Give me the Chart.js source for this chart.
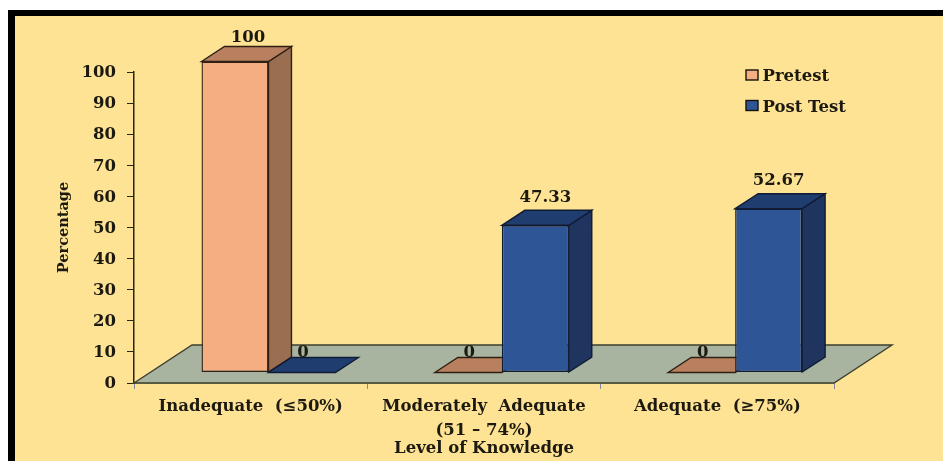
<!DOCTYPE html>
<html>
<head>
<meta charset="utf-8">
<style>
  html, body { margin: 0; padding: 0; background: #fff; overflow: hidden; }
  canvas { display: block; }
</style>
<script src="https://cdn.jsdelivr.net/npm/chart.js@4/dist/chart.umd.min.js"></script>
</head>
<body>
<canvas id="knowledgeChart" width="943" height="461"></canvas>
<script>
const categories = ['Inadequate  (≤50%)', ['Moderately  Adequate', '(51 – 74%)'], 'Adequate  (≥75%)'];
const pretest = [100, 0, 0];
const postTest = [0, 47.33, 52.67];
const yTicks = [0, 10, 20, 30, 40, 50, 60, 70, 80, 90, 100];

const FONT = '"DejaVu Serif", serif';
const INK = '#1c1a10';

// face colours for the fake 3d boxes
const faces = [
  { front: '#f4ae82', side: '#9a6e50', top: '#b8805f', line: '#2e2014' },
  { front: '#2e5596', side: '#1f3560', top: '#203d70', line: '#101c34' }
];

// how far the box fronts sit in from the axis, and how deep they go
const barShift = { x: 17.8, y: -10.5 };
const barDepth = { x: 23, y: -15 };
const floorDepth = { x: 58, y: -38 };

function poly(ctx, pts, fill, stroke) {
  ctx.beginPath();
  pts.forEach((p, i) => i ? ctx.lineTo(p[0], p[1]) : ctx.moveTo(p[0], p[1]));
  ctx.closePath();
  ctx.fillStyle = fill;
  ctx.fill();
  ctx.lineWidth = 1.4;
  ctx.strokeStyle = stroke;
  ctx.stroke();
}

const box3d = {
  id: 'box3d',
  beforeDraw(chart) {
    const ctx = chart.ctx;
    // page, black frame, yellow panel
    ctx.fillStyle = '#fff';
    ctx.fillRect(0, 0, 943, 461);
    ctx.fillStyle = '#000';
    ctx.fillRect(8, 10, 935, 451);
    ctx.fillStyle = '#ffe395';
    ctx.fillRect(15, 16, 928, 445);
  },
  beforeDatasetsDraw(chart) {
    const ctx = chart.ctx;
    const a = chart.chartArea;
    // floor
    poly(ctx, [
      [a.left, a.bottom],
      [a.left + floorDepth.x, a.bottom + floorDepth.y],
      [a.right + floorDepth.x, a.bottom + floorDepth.y],
      [a.right, a.bottom]
    ], '#a8b4a0', '#3c3f2c');
    // sides and tops go first, the library then paints the fronts over them
    chart.data.datasets.forEach((ds, i) => {
      const f = faces[i];
      chart.getDatasetMeta(i).data.forEach((bar) => {
        const l = bar.x - bar.width / 2 + barShift.x;
        const r = bar.x + bar.width / 2 + barShift.x;
        const t = bar.y + barShift.y;
        const b = bar.base + barShift.y;
        if (b - t > 0.5) {
          poly(ctx, [[r, t], [r + barDepth.x, t + barDepth.y], [r + barDepth.x, b + barDepth.y], [r, b]], f.side, f.line);
        }
        poly(ctx, [[l, t], [l + barDepth.x, t + barDepth.y], [r + barDepth.x, t + barDepth.y], [r, t]], f.top, f.line);
      });
    });
  },
  beforeDatasetDraw(chart) {
    chart.ctx.save();
    chart.ctx.translate(barShift.x, barShift.y);
  },
  afterDatasetDraw(chart) {
    chart.ctx.restore();
  },
  afterDatasetsDraw(chart) {
    const ctx = chart.ctx;
    ctx.save();
    ctx.font = 'bold 16.5px ' + FONT;
    ctx.fillStyle = INK;
    ctx.textAlign = 'center';
    ctx.textBaseline = 'middle';
    chart.data.datasets.forEach((ds, i) => {
      chart.getDatasetMeta(i).data.forEach((bar, j) => {
        const v = ds.data[j];
        const cx = bar.x + barShift.x;
        const cy = bar.y + barShift.y;
        if (v === 0) ctx.fillText('0', cx + 1, cy - 20);
        else if (v === 100) ctx.fillText('100', cx + 13, cy - 24);
        else ctx.fillText(String(v), cx + 10, cy - 28);
      });
    });
    ctx.restore();
  },
  afterDraw(chart) {
    // legend sits past the plot's right edge, so it is placed by hand
    const ctx = chart.ctx;
    ctx.save();
    ctx.font = 'bold 16.5px ' + FONT;
    ctx.textBaseline = 'alphabetic';
    chart.data.datasets.forEach((ds, i) => {
      const y = 70 + i * 30.5;
      ctx.fillStyle = ds.backgroundColor;
      ctx.fillRect(746, y, 12, 10);
      ctx.strokeStyle = '#15120c';
      ctx.lineWidth = 1.4;
      ctx.strokeRect(746, y, 12, 10);
      ctx.fillStyle = INK;
      ctx.fillText(ds.label, 762.5, y + 11);
    });
    ctx.restore();
  }
};

new Chart(document.getElementById('knowledgeChart'), {
  type: 'bar',
  data: {
    labels: categories,
    datasets: [
      { label: 'Pretest', data: pretest, backgroundColor: faces[0].front, borderColor: faces[0].line, borderWidth: 1.4, borderSkipped: false, clip: false },
      { label: 'Post Test', data: postTest, backgroundColor: faces[1].front, borderColor: faces[1].line, borderWidth: 1.4, borderSkipped: false, clip: false }
    ]
  },
  options: {
    responsive: false,
    animation: false,
    layout: { padding: { top: 72, right: 109, bottom: 0, left: 0 } },
    datasets: { bar: { barPercentage: 1, categoryPercentage: 0.574 } },
    plugins: {
      legend: { display: false },
      tooltip: { enabled: false }
    },
    scales: {
      x: {
        afterFit(scale) { scale.height = 78; },
        grid: { drawOnChartArea: false, color: '#7f8c9c', tickLength: 6 },
        border: { color: '#6f7664', width: 1.5 },
        ticks: {
          padding: 6,
          maxRotation: 0,
          autoSkip: false,
          color: INK,
          font: { family: FONT, weight: 'bold', size: 16.5, lineHeight: 1.45 }
        },
        title: {
          display: true,
          text: 'Level of Knowledge',
          color: INK,
          font: { family: FONT, weight: 'bold', size: 16.5, lineHeight: 1.2 },
          padding: { top: 0, bottom: 2 }
        }
      },
      y: {
        min: 0,
        max: 100,
        afterFit(scale) { scale.width = 134; },
        afterBuildTicks(scale) { scale.ticks = yTicks.map((value) => ({ value })); },
        grid: { drawOnChartArea: false, color: '#2a2414', tickLength: 7 },
        border: { color: '#2a2414', width: 1.5 },
        ticks: {
          padding: 11,
          labelOffset: 1,
          color: INK,
          font: { family: FONT, weight: 'bold', size: 16.5 }
        },
        title: {
          display: true,
          text: 'Percentage',
          color: INK,
          font: { family: FONT, weight: 'bold', size: 14.5 },
          padding: { top: 56, bottom: 0 }
        }
      }
    }
  },
  plugins: [box3d]
});
</script>
</body>
</html>
